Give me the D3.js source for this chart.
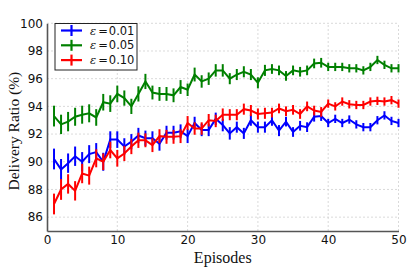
<!DOCTYPE html>
<html>
<head>
<meta charset="utf-8">
<script src="https://cdn.jsdelivr.net/npm/d3@7"></script>
<style>
  body { margin: 0; background: #fff; }
  svg { display: block; }
</style>
</head>
<body>
<div id="chart"></div>
<script>
const width = 415;
const height = 269;

const episodes = d3.range(1, 51);

const blueVals = [90.2, 89.45, 89.9, 90.4, 90.0, 90.55, 90.7, 90.0, 91.6, 91.6,
  91.1, 91.45, 91.9, 91.7, 91.7, 91.3, 92.1, 92.1, 92.2, 91.85,
  92.8, 92.3, 92.3, 93.1, 92.65, 92.05, 92.5, 92.05, 93.0, 92.5,
  92.5, 93.0, 92.25, 92.9, 92.15, 92.6, 92.5, 93.25, 93.3, 92.8,
  93.1, 92.8, 93.05, 92.7, 92.5, 92.5, 93.0, 93.35, 92.95, 92.8];
const greenVals = [93.3, 92.7, 92.9, 93.25, 93.4, 93.5, 93.2, 94.3, 94.2, 94.9,
  94.6, 94.0, 94.9, 95.8, 95.0, 94.9, 94.9, 94.8, 95.4, 95.2,
  96.3, 95.8, 96.0, 96.6, 96.6, 96.0, 96.3, 96.5, 96.3, 95.7,
  96.6, 96.7, 96.6, 96.2, 96.6, 96.5, 96.6, 97.1, 97.15, 96.85,
  96.85, 96.85, 96.75, 96.75, 96.6, 96.85, 97.35, 97.0, 96.75, 96.75];
const redVals = [86.95, 88.0, 88.4, 87.9, 89.15, 89.0, 90.25, 90.0, 90.85, 90.25,
  90.6, 91.1, 91.55, 91.55, 91.2, 91.85, 91.8, 91.8, 91.85, 92.8,
  92.4, 92.4, 93.0, 92.95, 93.4, 93.4, 93.4, 93.8, 93.7, 93.45,
  93.5, 93.55, 93.85, 93.65, 93.75, 93.45, 94.0, 93.7, 93.6, 94.2,
  94.0, 94.35, 94.15, 94.1, 94.1, 94.35, 94.4, 94.35, 94.45, 94.2];

const blueErr = [0.75, 0.75, 0.7, 0.7, 0.7, 0.65, 0.65, 0.65, 0.6, 0.6,
  0.6, 0.55, 0.55, 0.55, 0.5, 0.5, 0.5, 0.5, 0.5, 0.5,
  0.45, 0.45, 0.45, 0.45, 0.45, 0.45, 0.4, 0.4, 0.4, 0.4,
  0.4, 0.4, 0.4, 0.35, 0.35, 0.35, 0.35, 0.35, 0.35, 0.3,
  0.3, 0.3, 0.3, 0.3, 0.3, 0.3, 0.3, 0.3, 0.3, 0.3];
const greenErr = [0.75, 0.7, 0.7, 0.65, 0.65, 0.65, 0.6, 0.6, 0.6, 0.6,
  0.55, 0.55, 0.55, 0.55, 0.5, 0.5, 0.5, 0.5, 0.5, 0.45,
  0.5, 0.45, 0.45, 0.45, 0.45, 0.4, 0.4, 0.4, 0.4, 0.4,
  0.4, 0.35, 0.35, 0.35, 0.35, 0.35, 0.35, 0.35, 0.35, 0.3,
  0.3, 0.3, 0.3, 0.3, 0.3, 0.3, 0.3, 0.3, 0.3, 0.3];
const redErr = [0.75, 0.75, 0.7, 0.7, 0.7, 0.65, 0.65, 0.6, 0.6, 0.6,
  0.55, 0.55, 0.55, 0.5, 0.5, 0.5, 0.5, 0.5, 0.5, 0.5,
  0.45, 0.45, 0.45, 0.45, 0.45, 0.4, 0.4, 0.4, 0.4, 0.4,
  0.4, 0.35, 0.35, 0.35, 0.35, 0.35, 0.35, 0.35, 0.35, 0.3,
  0.3, 0.3, 0.3, 0.3, 0.3, 0.3, 0.3, 0.3, 0.3, 0.3];

const seriesNames = ["0.01", "0.05", "0.10"];
const seriesColors = ["#0000ff", "#008000", "#ff0000"];
const xTicks = [0, 10, 20, 30, 40, 50];
const yTicks = [86, 88, 90, 92, 94, 96, 98, 100];

const series = [
  { name: seriesNames[0], color: seriesColors[0], vals: blueVals, err: blueErr },
  { name: seriesNames[1], color: seriesColors[1], vals: greenVals, err: greenErr },
  { name: seriesNames[2], color: seriesColors[2], vals: redVals, err: redErr }
];

const margin = { top: 23.3, right: 16.5, bottom: 38, left: 47 };

const x = d3.scaleLinear().domain([0, 50]).range([margin.left, width - margin.right]);
const y = d3.scaleLinear().domain([85, 100]).range([height - margin.bottom, margin.top]);

const svg = d3.select("#chart")
  .append("svg")
  .attr("width", width)
  .attr("height", height);

// grid
const grid = svg.append("g")
  .attr("stroke", "#d0d0d0")
  .attr("stroke-width", 0.8)
  .attr("stroke-dasharray", "2,2");

grid.selectAll("line.h")
  .data(yTicks)
  .join("line")
  .attr("class", "h")
  .attr("x1", x(0)).attr("x2", x(50))
  .attr("y1", d => y(d)).attr("y2", d => y(d));

grid.selectAll("line.v")
  .data(xTicks.filter(d => d > 0))
  .join("line")
  .attr("class", "v")
  .attr("y1", y(85)).attr("y2", y(100))
  .attr("x1", d => x(d)).attr("x2", d => x(d));

// axes
const xAxis = svg.append("g")
  .attr("transform", `translate(0,${y(85)})`)
  .call(d3.axisBottom(x).tickValues(xTicks).tickSize(0).tickPadding(4));

const yAxis = svg.append("g")
  .attr("transform", `translate(${x(0)},0)`)
  .call(d3.axisLeft(y).tickValues(yTicks).tickSize(0).tickPadding(4));

[xAxis, yAxis].forEach(a => {
  a.select(".domain").attr("stroke", "#555").attr("stroke-width", 1.6);
  a.selectAll("text")
    .attr("fill", "#111")
    .style("font-family", "'DejaVu Sans', sans-serif")
    .style("font-size", "12px");
});

// series
const line = d3.line()
  .x((d, i) => x(episodes[i]))
  .y(d => y(d));

series.forEach(s => {
  const g = svg.append("g");
  g.append("path")
    .datum(s.vals)
    .attr("fill", "none")
    .attr("stroke", s.color)
    .attr("stroke-width", 2)
    .attr("stroke-linejoin", "miter")
    .attr("d", line);
  g.selectAll("line.err")
    .data(s.vals)
    .join("line")
    .attr("class", "err")
    .attr("stroke", s.color)
    .attr("stroke-width", 2)
    .attr("x1", (d, i) => x(episodes[i]))
    .attr("x2", (d, i) => x(episodes[i]))
    .attr("y1", (d, i) => y(d - s.err[i]))
    .attr("y2", (d, i) => y(d + s.err[i]));
});

// legend
const legend = svg.append("g").attr("transform", "translate(55,23.5)");
legend.append("rect")
  .attr("width", 82)
  .attr("height", 46.5)
  .attr("fill", "#fff")
  .attr("stroke", "#222")
  .attr("stroke-width", 1);

series.forEach((s, i) => {
  const row = legend.append("g").attr("transform", `translate(0,${7 + i * 14.8})`);
  row.append("line")
    .attr("x1", 6).attr("x2", 27)
    .attr("stroke", s.color).attr("stroke-width", 2.2);
  row.append("line")
    .attr("x1", 16.5).attr("x2", 16.5)
    .attr("y1", -5.5).attr("y2", 5.5)
    .attr("stroke", s.color).attr("stroke-width", 2.2);
  const t = row.append("text")
    .attr("x", 35)
    .attr("y", 4)
    .style("font-family", "'DejaVu Sans', sans-serif")
    .style("font-size", "11.5px")
    .attr("fill", "#111");
  t.append("tspan").style("font-style", "italic").style("font-family", "'DejaVu Serif', serif").text("ε");
  t.append("tspan").attr("dx", 2).text("=");
  t.append("tspan").attr("dx", 1).text(s.name);
});

// axis labels
svg.append("text")
  .attr("x", (x(0) + x(50)) / 2)
  .attr("y", 263)
  .attr("text-anchor", "middle")
  .style("font-family", "'Liberation Serif', serif")
  .style("font-size", "16px")
  .attr("fill", "#111")
  .text("Episodes");

svg.append("text")
  .attr("transform", `translate(19,${(y(85) + y(100)) / 2 + 4}) rotate(-90)`)
  .attr("text-anchor", "middle")
  .style("font-family", "'Liberation Serif', serif")
  .style("font-size", "15.5px")
  .attr("fill", "#111")
  .text("Delivery Ratio (%)");
</script>
</body>
</html>
